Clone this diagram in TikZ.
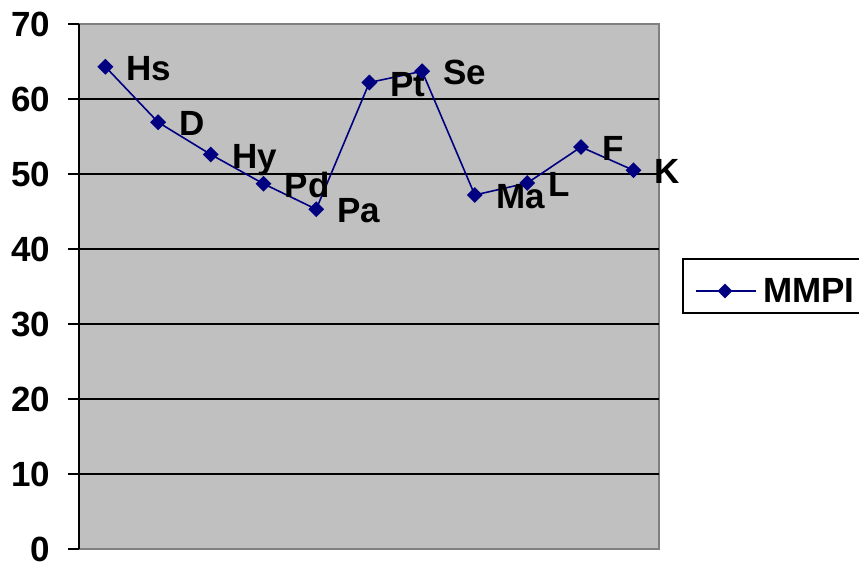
\documentclass[tikz,border=0pt]{standalone}
\usepackage{fontspec}
\setmainfont{Liberation Sans}
\usetikzlibrary{shapes.geometric}
\definecolor{navyc}{HTML}{000080}
\definecolor{plotgray}{HTML}{C0C0C0}
\definecolor{bordergray}{HTML}{808080}
\begin{document}
\begin{tikzpicture}[x=1pt,y=-1pt,
  lbl/.style={anchor=base west,inner sep=0pt,font=\fontsize{35}{35}\selectfont\bfseries},
  ylbl/.style={anchor=base east,inner sep=0pt,font=\fontsize{35}{35}\selectfont\bfseries},
  marker/.style={diamond,fill=navyc,draw=none,minimum width=16pt,minimum height=16pt,inner sep=0pt},
  lmarker/.style={diamond,fill=navyc,draw=none,minimum width=15pt,minimum height=15pt,inner sep=0pt},
  series/.style={draw=navyc,line width=1.6pt},
  grid/.style={draw=black,line width=1.6pt},
  tick/.style={draw=black,line width=1.6pt}]
\useasboundingbox (0,0) rectangle (859,563);
\clip (0,0) rectangle (859,563);
% plot area
\fill[plotgray] (79,24) rectangle (659,549);
\draw[bordergray,line width=1.4pt] (79,24) -- (659,24) -- (659,549) -- (79,549);
% gridlines
\foreach \v in {10,20,30,40,50,60} {
  \draw[grid] (79,{549-7.5*\v}) -- (659,{549-7.5*\v});
}
% axis and ticks
\draw[tick] (79,24) -- (79,549);
\foreach \v in {0,10,20,30,40,50,60,70} {
  \draw[tick] (68,{549-7.5*\v}) -- (79,{549-7.5*\v});
  \node[ylbl] (y\v) at (50.5,{549-7.5*\v+12.5}) {\v};
}
% data points
\coordinate (Hs) at (105.4,{549-7.5*64.3});
\coordinate (D)  at (158.1,{549-7.5*56.9});
\coordinate (Hy) at (210.8,{549-7.5*52.6});
\coordinate (Pd) at (263.5,{549-7.5*48.7});
\coordinate (Pa) at (316.2,{549-7.5*45.3});
\coordinate (Pt) at (369.4,{549-7.5*62.2});
\coordinate (Se) at (422.1,{549-7.5*63.7});
\coordinate (Ma) at (474.8,{549-7.5*47.2});
\coordinate (L)  at (527.3,{549-7.5*48.8});
\coordinate (F)  at (581.0,{549-7.5*53.6});
\coordinate (K)  at (633.5,{549-7.5*50.5});
\draw[series] (Hs) -- (D) -- (Hy) -- (Pd) -- (Pa) -- (Pt) -- (Se) -- (Ma) -- (L) -- (F) -- (K);
\foreach \p in {Hs,D,Hy,Pd,Pa,Pt,Se,Ma,L,F,K} {
  \node[marker] (m\p) at (\p) {};
  \node[lbl] (t\p) at ([xshift=21pt,yshift=-13.5pt]\p) {\p};
}
% legend
\draw[black,line width=1.6pt] (683,259) rectangle (880,313);
\coordinate (la) at (696,291);
\coordinate (lb) at (756,291);
\draw[series] (la) -- (lb);
\node[lmarker] (lm) at (725,291) {};
\node[lbl] (ltext) at (763,302.5) {MMPI};
\end{tikzpicture}
\end{document}
